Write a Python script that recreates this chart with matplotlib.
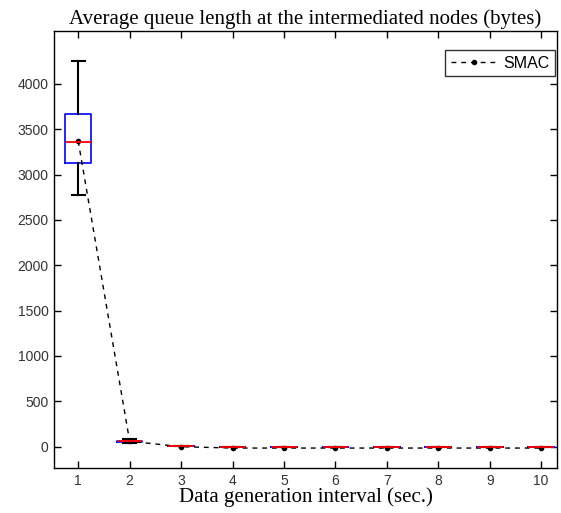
import matplotlib
matplotlib.use("Agg")
import matplotlib.pyplot as plt

# Data
intervals = [1, 2, 3, 4, 5, 6, 7, 8, 9, 10]
whislo = [2772, 40, 3, 0, 0, 0, 0, 0, 0, 0]
q1 = [3125, 48, 4, 0, 0, 0, 0, 0, 0, 0]
med = [3360, 58, 5, 0, 0, 0, 0, 0, 0, 0]
q3 = [3668, 68, 6, 0, 0, 0, 0, 0, 0, 0]
whishi = [4256, 80, 7, 0, 0, 0, 0, 0, 0, 0]
means = [3370, 60, 0, -15, -15, -15, -15, -15, -15, -15]
yticks = [0, 500, 1000, 1500, 2000, 2500, 3000, 3500, 4000]

fig = plt.figure(figsize=(5.61, 5.13), dpi=100)
ax = fig.add_axes([0.0963, 0.0877, 0.8967, 0.852])

stats = []
for i in range(len(intervals)):
    stats.append(dict(whislo=whislo[i], q1=q1[i], med=med[i], q3=q3[i],
                      whishi=whishi[i], fliers=[]))

ax.bxp(stats, positions=intervals, widths=0.5, showfliers=False,
       boxprops=dict(color='blue', linewidth=1.2),
       medianprops=dict(color='red', linewidth=1.3, zorder=5),
       whiskerprops=dict(color='black', linewidth=1.5),
       capprops=dict(color='black', linewidth=1.5),
       manage_ticks=False)

ax.plot(intervals, means, linestyle=(0, (3.5, 3.5)), color='black', marker='o',
        markersize=3, linewidth=1.0, label='SMAC', zorder=4)

ax.set_xlim(0.53, 10.31)
ax.set_ylim(-235, 4583)
ax.set_xticks(intervals)
ax.set_xticklabels([str(v) for v in intervals])
ax.set_yticks(yticks)
ax.tick_params(direction='in', top=True, right=True, length=5, width=1,
               labelsize=10, colors='black', pad=4)
for lab in ax.get_xticklabels() + ax.get_yticklabels():
    lab.set_family('Liberation Sans')
    lab.set_color('#333333')
for s in ax.spines.values():
    s.set_linewidth(1.0)

ax.set_title('Average queue length at the intermediated nodes (bytes)',
             family='Liberation Serif', fontsize=15, pad=5)
ax.set_xlabel('Data generation interval (sec.)', family='Liberation Serif',
              fontsize=15, labelpad=0)

leg = ax.legend(loc='upper right', bbox_to_anchor=(0.996, 0.9565),
                borderaxespad=0,
                prop={'family': 'Liberation Sans', 'size': 11.5},
                frameon=True, fancybox=False, edgecolor='black',
                handlelength=3.0, handletextpad=0.3, borderpad=0.35)
leg.get_frame().set_linewidth(1.0)

fig.savefig('out.png', dpi=100)
